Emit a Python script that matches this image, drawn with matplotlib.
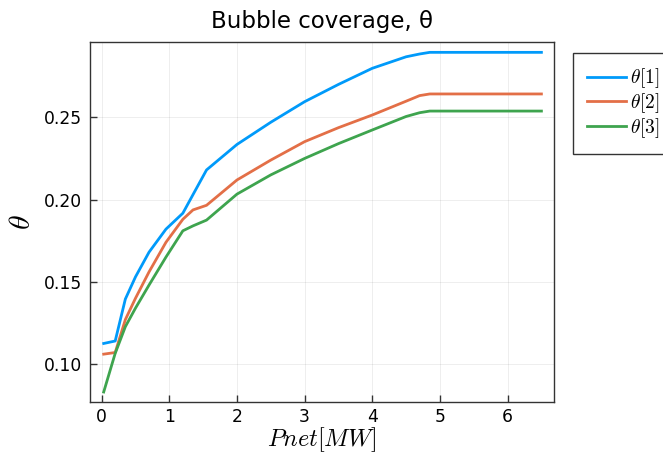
import matplotlib
matplotlib.use("Agg")
import matplotlib.pyplot as plt

plt.rcParams['mathtext.fontset'] = 'cm'
plt.rcParams['font.family'] = ['DejaVu Sans']

# Pnet [MW]
pnet = [0.03, 0.2, 0.35, 0.5, 0.7, 0.95, 1.2, 1.35, 1.55, 2.0, 2.5, 3.0,
        3.5, 4.0, 4.5, 4.7, 4.85, 5.5, 6.5]
theta1 = [0.1125, 0.114, 0.1395, 0.153, 0.168, 0.182, 0.1917, 0.203, 0.218,
          0.2335, 0.247, 0.2595, 0.270, 0.2798, 0.2868, 0.2885, 0.2895,
          0.2895, 0.2895]
theta2 = [0.106, 0.107, 0.127, 0.140, 0.156, 0.174, 0.188, 0.1937, 0.1965,
          0.2119, 0.224, 0.2352, 0.2437, 0.2514, 0.2598, 0.2632, 0.2642,
          0.2642, 0.2642]
theta3 = [0.083, 0.1065, 0.1227, 0.134, 0.148, 0.165, 0.181, 0.184, 0.1875,
          0.2033, 0.2150, 0.2250, 0.234, 0.2423, 0.2505, 0.2528, 0.2538,
          0.2538, 0.2538]
labels = [r"$\theta[1]$", r"$\theta[2]$", r"$\theta[3]$"]
colors = ["#009AFA", "#E36F47", "#3EA44E"]

fig = plt.figure(figsize=(6.63, 4.54), dpi=100)
ax = fig.add_axes([0.1357, 0.1145, 0.7003, 0.7923])

for ys, lab, c in zip([theta1, theta2, theta3], labels, colors):
    ax.plot(pnet, ys, color=c, lw=2, label=lab)

ax.set_xlim(-0.173, 6.69)
ax.set_ylim(0.0769, 0.2956)
ax.set_xticks(range(0, 7))
ax.set_yticks([0.10, 0.15, 0.20, 0.25])
ax.set_yticklabels(["0.10", "0.15", "0.20", "0.25"])
ax.grid(True, color="black", alpha=0.08, lw=0.6)
ax.tick_params(direction="in", length=5, width=1, labelsize=12.3,
               color="#333333", pad=6)
ax.tick_params(axis="x", pad=4)
for s in ax.spines.values():
    s.set_color("#333333")
    s.set_linewidth(1)

ax.set_title("Bubble coverage, θ", fontsize=16.5, pad=10)
ax.set_xlabel(r"$Pnet[MW]$", fontsize=17.5, labelpad=-0.5)
ax.set_ylabel(r"$\theta$", fontsize=21.5, labelpad=5)

fig.legend(loc="upper left", bbox_to_anchor=(573 / 663, 1 - 53 / 454),
           fontsize=14, fancybox=False, edgecolor="#333333", framealpha=1,
           handlelength=2.05, handletextpad=0.2, labelspacing=0.05,
           borderpad=0.7, borderaxespad=0)

fig.savefig("out.png", dpi=100)
